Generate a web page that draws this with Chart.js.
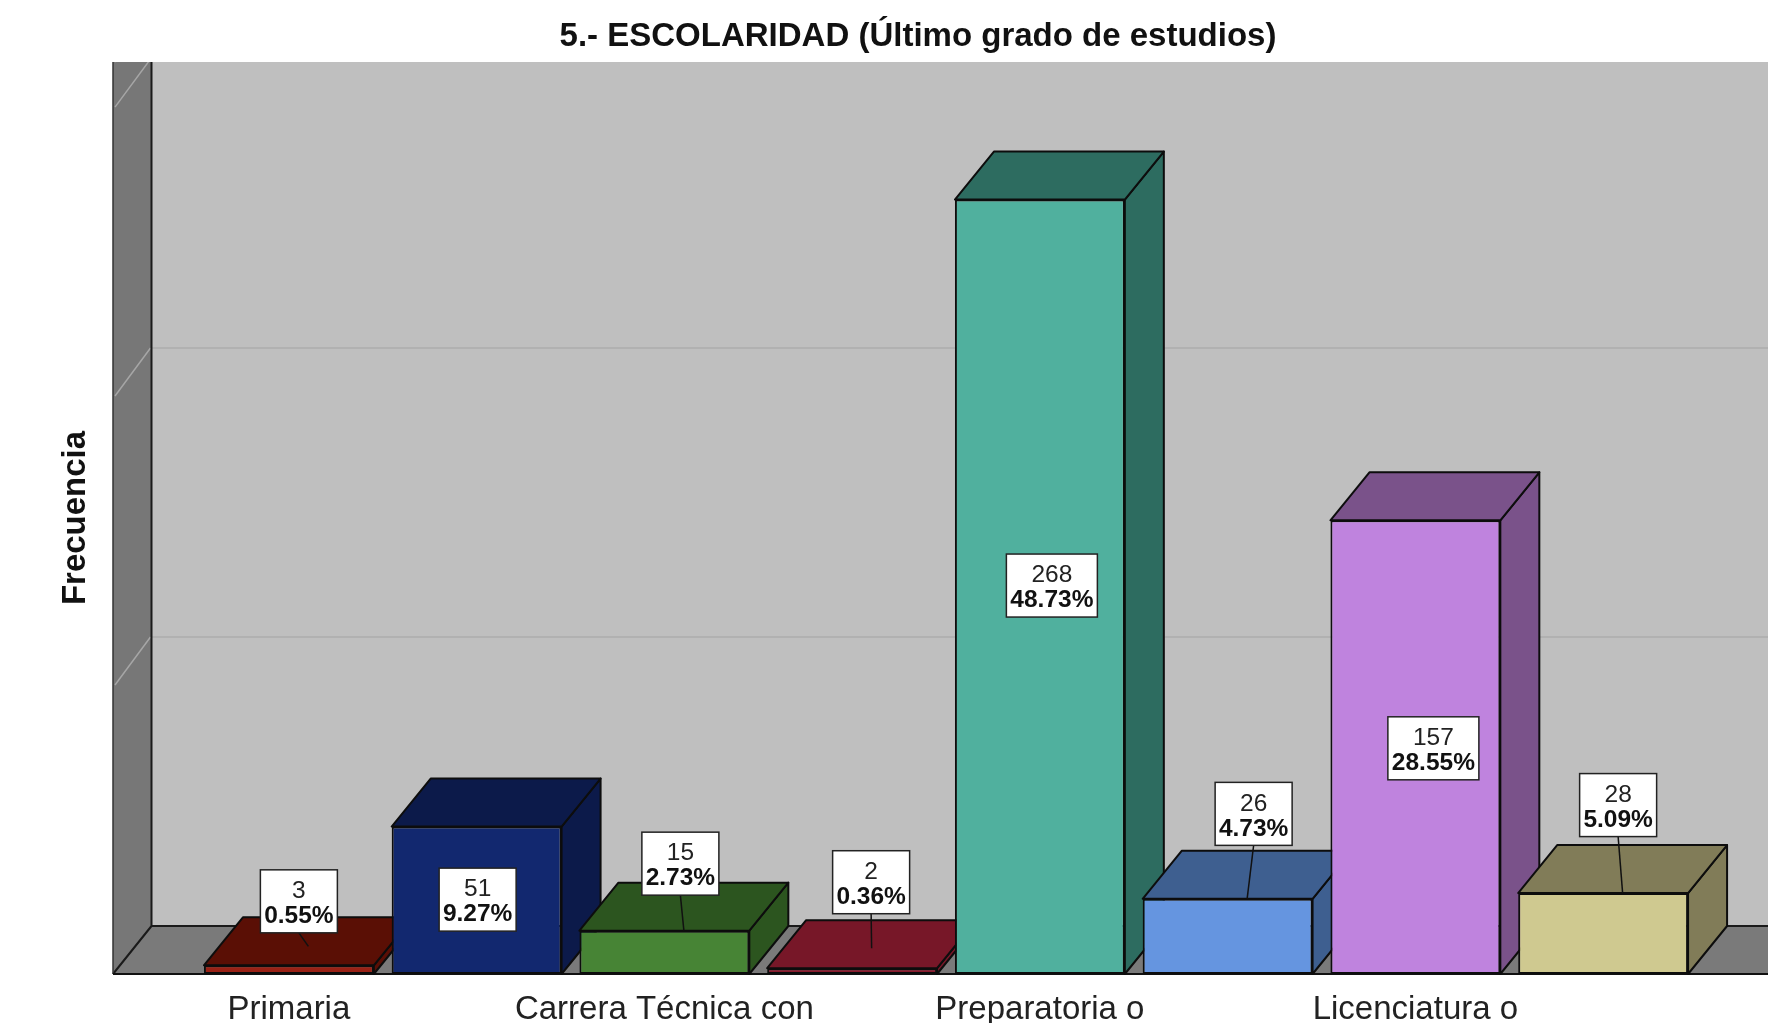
<!DOCTYPE html>
<html>
<head>
<meta charset="utf-8">
<style>html,body{margin:0;padding:0;background:#fff;overflow:hidden}canvas{display:block}</style>
<script src="https://cdn.jsdelivr.net/npm/chart.js@4"></script>
</head>
<body>
<canvas id="c" width="1768" height="1023"></canvas>
<script>
const categories = ["Primaria","","Carrera Técnica con","","Preparatoria o","","Licenciatura o",""];
const frequency = [3,51,15,2,268,26,157,28];
const percent = ["0.55%","9.27%","2.73%","0.36%","48.73%","4.73%","28.55%","5.09%"];
const frontColors = ["#9a2115","#12286f","#478435","#8a1a2d","#50b09e","#6595e0","#bf83de","#cfc990"];
const depthColors = ["#5a0f05","#0c1a4a","#2c551f","#771728","#2d6c60","#3e5f90","#7a528a","#817c58"];
const labelOffsetX = [10,1,16,19,12,26,18,15];
const labelOffsetY = [-64,73,-67,-86,386,-85,228,-88];
const leaderDrop = [-19,null,0,-20,null,0,null,0];
const title = "5.- ESCOLARIDAD (Último grado de estudios)";
const yTitle = "Frecuencia";

const DX = 39, DY = 48, WALL = 82, WALL_DX = 38.5;
const poly = (ctx, pts, fill, stroke, lw) => {
  ctx.beginPath();
  pts.forEach((p,i)=> i ? ctx.lineTo(p[0],p[1]) : ctx.moveTo(p[0],p[1]));
  ctx.closePath();
  if (fill) { ctx.fillStyle = fill; ctx.fill(); }
  if (stroke) { ctx.strokeStyle = stroke; ctx.lineWidth = lw || 2; ctx.stroke(); }
};

const scene = {
  id: 'scene',
  afterLayout(chart) {
    chart.titleBlock.left = 68;
    chart.titleBlock.right = chart.width;
  },
  beforeDatasetsDraw(chart) {
    const {ctx, chartArea:a, scales:{y}, width:W} = chart;
    const L = a.left - WALL, B = a.bottom, T = a.top;
    ctx.save();
    ctx.beginPath(); ctx.rect(L-1, T, W-L+1, B-T+2); ctx.clip();
    ctx.fillStyle = '#bfbfbf'; ctx.fillRect(L+WALL_DX, T, W-L-WALL_DX, B-T);
    poly(ctx, [[L,T],[L+WALL_DX,T],[L+WALL_DX,B-DY],[L,B]], '#777777');
    y.ticks.forEach(t=>{
      const py = y.getPixelForValue(t.value);
      ctx.strokeStyle = '#b1b1b1'; ctx.lineWidth = 2;
      ctx.beginPath(); ctx.moveTo(L+WALL_DX, py-DY); ctx.lineTo(W, py-DY); ctx.stroke();
      if (t.value > 0) {
        ctx.strokeStyle = '#a6a6a6'; ctx.lineWidth = 1.5;
        ctx.beginPath(); ctx.moveTo(L+2, py); ctx.lineTo(L+WALL_DX-1, py-DY); ctx.stroke();
      }
    });
    poly(ctx, [[L,B],[L+WALL_DX,B-DY],[W+2,B-DY],[W+2,B]], '#7a7a7a');
    ctx.strokeStyle = '#1a1a1a'; ctx.lineWidth = 2;
    ctx.beginPath();
    ctx.moveTo(L+WALL_DX,T); ctx.lineTo(L+WALL_DX,B-DY); ctx.lineTo(W,B-DY);
    ctx.moveTo(L+WALL_DX,B-DY); ctx.lineTo(L,B);
    ctx.stroke();
    ctx.lineWidth = 1.5; ctx.strokeStyle = '#333';
    ctx.beginPath(); ctx.moveTo(L,T); ctx.lineTo(L,B); ctx.stroke();
    ctx.lineWidth = 2; ctx.strokeStyle = '#111';
    ctx.beginPath(); ctx.moveTo(L,B); ctx.lineTo(W,B); ctx.stroke();
    ctx.restore();
  },
  beforeDatasetDraw(chart, args) {
    const {ctx} = chart;
    args.meta.data.forEach((el,i)=>{
      const {x, y, base, width} = el.getProps(['x','y','base','width'], true);
      const l = x-width/2, r = x+width/2, c = depthColors[i];
      ctx.save();
      ctx.lineJoin = 'round';
      poly(ctx, [[r,y],[r+DX,y-DY],[r+DX,base-DY],[r,base]], c, '#0d0d0d', 2);
      poly(ctx, [[l,y],[l+DX,y-DY],[r+DX,y-DY],[r,y]], c, '#0d0d0d', 2);
      ctx.restore();
      el.draw(ctx, chart.chartArea);
    });
    return false;
  },
  afterDatasetsDraw(chart) {
    const {ctx} = chart;
    chart.getDatasetMeta(0).data.forEach((el,i)=>{
      const cx = el.x + labelOffsetX[i], cy = el.y + labelOffsetY[i];
      ctx.save();
      ctx.font = 'bold 24.5px "Liberation Sans"';
      const tw = ctx.measureText(percent[i]).width;
      const w = Math.round(tw) + 8, h = 63;
      if (leaderDrop[i] !== null) {
        ctx.strokeStyle = '#111'; ctx.lineWidth = 1.5;
        ctx.beginPath();
        ctx.moveTo(cx, cy + h/2);
        ctx.lineTo(el.x + 19.5, el.y + leaderDrop[i]);
        ctx.stroke();
      }
      ctx.fillStyle = '#fff';
      ctx.fillRect(cx-w/2, cy-h/2, w, h);
      ctx.strokeStyle = '#222'; ctx.lineWidth = 1.5;
      ctx.strokeRect(cx-w/2, cy-h/2, w, h);
      ctx.fillStyle = '#111';
      ctx.textAlign = 'center'; ctx.textBaseline = 'middle';
      ctx.fillText(percent[i], cx, cy + 15);
      ctx.font = '24.5px "Liberation Sans"';
      ctx.fillStyle = '#222';
      ctx.fillText(String(frequency[i]), cx, cy - 10);
      ctx.restore();
    });
  }
};

new Chart(document.getElementById('c'), {
  type: 'bar',
  plugins: [scene],
  data: {
    labels: categories,
    datasets: [{
      label: yTitle,
      data: frequency,
      backgroundColor: frontColors,
      borderColor: '#0d0d0d',
      borderWidth: 2,
      borderSkipped: false,
      categoryPercentage: 1,
      barPercentage: 0.905
    }]
  },
  options: {
    responsive: false,
    animation: false,
    devicePixelRatio: 1,
    layout: { padding: { left: 0, right: 71, top: 0, bottom: 0 } },
    plugins: {
      legend: { display: false },
      tooltip: { enabled: false },
      title: {
        display: true,
        text: title,
        color: '#111',
        font: { family: '"Liberation Sans"', size: 33, weight: 'bold', lineHeight: 1.2 },
        padding: { top: 17, bottom: 5.4 }
      }
    },
    scales: {
      x: {
        grid: { display: false },
        border: { display: false },
        ticks: {
          autoSkip: false, minRotation: 0, maxRotation: 0, padding: 8,
          color: '#222',
          font: { family: '"Liberation Sans"', size: 33 }
        },
        afterFit: s => { s.height = 49; }
      },
      y: {
        min: 0,
        max: 315.6,
        afterFit: s => { s.width = 195; },
        grid: { display: false },
        border: { display: false },
        ticks: { display: false, stepSize: 100 },
        title: {
          display: true,
          text: yTitle,
          color: '#111',
          font: { family: '"Liberation Sans"', size: 33, weight: 'bold', lineHeight: 1.2 },
          padding: { top: 56.6, bottom: 0 }
        }
      }
    }
  }
});
</script>
</body>
</html>
